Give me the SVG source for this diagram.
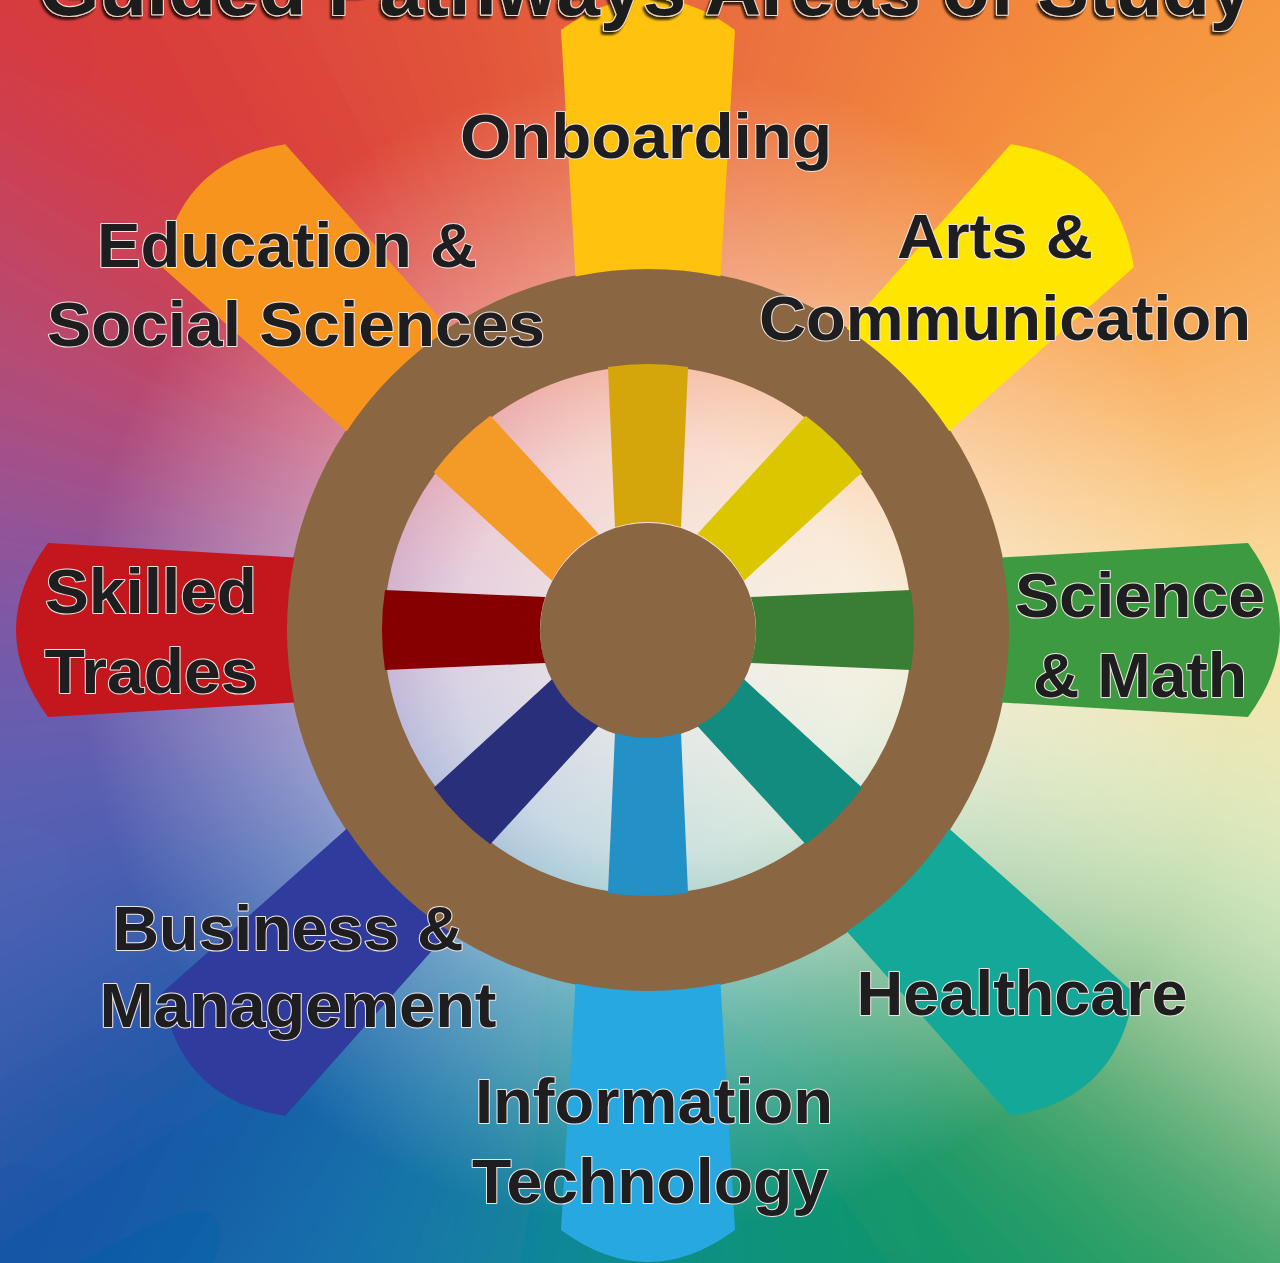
<svg xmlns="http://www.w3.org/2000/svg" xmlns:xlink="http://www.w3.org/1999/xlink" width="1280" height="1263" viewBox="0 0 1280 1263">
<defs>
<style>
.lbl{font-family:"Liberation Sans",Arial,Helvetica,sans-serif;font-weight:700;font-size:63px;fill:#1e1e20;stroke:#efe4df;stroke-width:2px;paint-order:stroke;stroke-linejoin:round;text-anchor:middle}
.title{font-family:"Liberation Sans",Arial,Helvetica,sans-serif;font-weight:700;font-size:77px;fill:#1b1b1d;stroke:#f0dccb;stroke-width:2.2px;paint-order:stroke;stroke-linejoin:round}
.brown{fill:#8A6642}
</style>
<filter id="soft" filterUnits="userSpaceOnUse" x="-600" y="-600" width="2480" height="2463">
<feGaussianBlur stdDeviation="120"/>
</filter>
<filter id="drop" x="-5%" y="-50%" width="110%" height="200%">
<feDropShadow dx="-2" dy="3" stdDeviation="0.8" flood-color="#000" flood-opacity="0.75"/>
</filter>
<radialGradient id="glow" gradientUnits="userSpaceOnUse" cx="660" cy="650" r="580">
<stop offset="0" stop-color="#ffffff" stop-opacity="0.82"/>
<stop offset="0.35" stop-color="#ffffff" stop-opacity="0.72"/>
<stop offset="0.65" stop-color="#ffffff" stop-opacity="0.35"/>
<stop offset="1" stop-color="#ffffff" stop-opacity="0"/>
</radialGradient>
<path id="handle" d="M -72.5,-353.6 L -87,-600 Q 0,-664 87,-600 L 72.5,-353.6 A 361 361 0 0 0 -72.5,-353.6 Z"/>
<path id="spoke" d="M -33,-102.8 L -40,-263 A 266 266 0 0 1 40,-263 L 33,-102.8 A 108 108 0 0 0 -33,-102.8 Z"/>
</defs>

<g id="background">
<rect x="0" y="0" width="1280" height="1263" fill="#d8a0a0"/>
<g filter="url(#soft)">
<polygon points="648,630 258,-1332 1038,-1332" fill="#E8663E"/>
<polygon points="648,630 1038,-1332 1759,-1033" fill="#EF7C3E"/>
<polygon points="648,630 1759,-1033 2311,-481" fill="#F7983C"/>
<polygon points="648,630 2311,-481 2610,240" fill="#F9B463"/>
<polygon points="648,630 2610,240 2610,1020" fill="#FBE5A8"/>
<polygon points="648,630 2610,1020 2311,1741" fill="#D8EEC8"/>
<polygon points="648,630 2311,1741 1759,2293" fill="#2FA466"/>
<polygon points="648,630 1759,2293 1038,2592" fill="#0E9468"/>
<polygon points="648,630 1038,2592 258,2592" fill="#109086"/>
<polygon points="648,630 258,2592 -463,2293" fill="#1674AE"/>
<polygon points="648,630 -463,2293 -1015,1741" fill="#0F52A4"/>
<polygon points="648,630 -1015,1741 -1314,1020" fill="#4A64B6"/>
<polygon points="648,630 -1314,1020 -1314,240" fill="#7358AC"/>
<polygon points="648,630 -1314,240 -1015,-481" fill="#B44C72"/>
<polygon points="648,630 -1015,-481 -463,-1033" fill="#D83838"/>
<polygon points="648,630 -463,-1033 258,-1332" fill="#E04E3A"/>
</g>
<rect x="0" y="0" width="1280" height="1263" fill="url(#glow)"/>
</g>

<g id="wheel">
<circle cx="648" cy="630" r="313" fill="none" stroke="#8A6642" stroke-width="98"/>
<circle class="brown" cx="648" cy="631" r="108"/>
</g>

<g id="node-onboarding">
<use xlink:href="#handle" transform="translate(648 630) rotate(0)" fill="#FFC30F"/>
<use xlink:href="#spoke" transform="translate(648 630) rotate(0)" fill="#D4A60C"/>
<text class="lbl" x="646" y="158" textLength="372" lengthAdjust="spacingAndGlyphs">Onboarding</text>
</g>

<g id="node-arts">
<use xlink:href="#handle" transform="translate(648 630) rotate(45)" fill="#FFE600"/>
<use xlink:href="#spoke" transform="translate(648 630) rotate(45)" fill="#DCC600"/>
<text class="lbl" x="995" y="258" textLength="196" lengthAdjust="spacingAndGlyphs">Arts &amp;</text>
<text class="lbl" x="1005" y="340" textLength="492" lengthAdjust="spacingAndGlyphs">Communication</text>
</g>

<g id="node-science">
<use xlink:href="#handle" transform="translate(648 630) rotate(90)" fill="#3E9A40"/>
<use xlink:href="#spoke" transform="translate(648 630) rotate(90)" fill="#3A7D35"/>
<text class="lbl" x="1140" y="617" textLength="250" lengthAdjust="spacingAndGlyphs">Science</text>
<text class="lbl" x="1140" y="697" textLength="214" lengthAdjust="spacingAndGlyphs">&amp; Math</text>
</g>

<g id="node-healthcare">
<use xlink:href="#handle" transform="translate(648 630) rotate(135)" fill="#13A898"/>
<use xlink:href="#spoke" transform="translate(648 630) rotate(135)" fill="#128C7F"/>
<text class="lbl" x="1022" y="1015" textLength="331" lengthAdjust="spacingAndGlyphs">Healthcare</text>
</g>

<g id="node-it">
<use xlink:href="#handle" transform="translate(648 630) rotate(180)" fill="#27A8E0"/>
<use xlink:href="#spoke" transform="translate(648 630) rotate(180)" fill="#2390C6"/>
<text class="lbl" x="654" y="1123" textLength="358" lengthAdjust="spacingAndGlyphs">Information</text>
<text class="lbl" x="650" y="1203" textLength="356" lengthAdjust="spacingAndGlyphs">Technology</text>
</g>

<g id="node-business">
<use xlink:href="#handle" transform="translate(648 630) rotate(225)" fill="#2F3B9D"/>
<use xlink:href="#spoke" transform="translate(648 630) rotate(225)" fill="#292F7B"/>
<text class="lbl" x="288" y="950" textLength="351" lengthAdjust="spacingAndGlyphs">Business &amp;</text>
<text class="lbl" x="298" y="1027" textLength="397" lengthAdjust="spacingAndGlyphs">Management</text>
</g>

<g id="node-skilled">
<use xlink:href="#handle" transform="translate(648 630) rotate(270)" fill="#C3161D"/>
<use xlink:href="#spoke" transform="translate(648 630) rotate(270)" fill="#870000"/>
<text class="lbl" x="151" y="613" textLength="212" lengthAdjust="spacingAndGlyphs">Skilled</text>
<text class="lbl" x="151" y="693" textLength="213" lengthAdjust="spacingAndGlyphs">Trades</text>
</g>

<g id="node-education">
<use xlink:href="#handle" transform="translate(648 630) rotate(315)" fill="#F7941E"/>
<use xlink:href="#spoke" transform="translate(648 630) rotate(315)" fill="#F39A27"/>
<text class="lbl" x="287" y="267" textLength="380" lengthAdjust="spacingAndGlyphs">Education &amp;</text>
<text class="lbl" x="296" y="346" textLength="498" lengthAdjust="spacingAndGlyphs">Social Sciences</text>
</g>

<g id="title">
<text class="title" x="39" y="15" textLength="1214" lengthAdjust="spacingAndGlyphs" filter="url(#drop)">Guided Pathways Areas of Study</text>
</g>
</svg>
